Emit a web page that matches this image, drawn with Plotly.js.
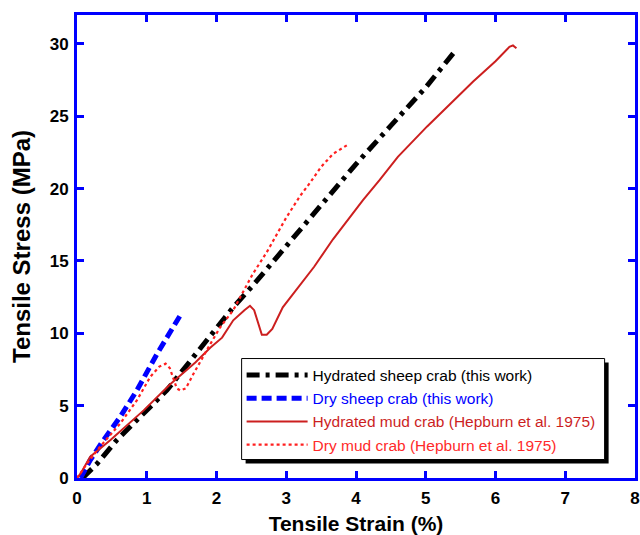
<!DOCTYPE html>
<html>
<head>
<meta charset="utf-8">
<script src="https://cdn.plot.ly/plotly-3.0.1.min.js"></script>
<style>html,body{margin:0;padding:0;background:#fff;}#chart{width:640px;height:535px;}</style>
</head>
<body>
<div id="chart"></div>
<script>
// Hydrated sheep crab (this work)
const hydSheepStrain = [0.08, 0.29, 0.57, 0.96, 1.29, 1.67, 1.94, 2.24, 2.52, 3.34, 4.0, 4.49, 5.0, 5.42];
const hydSheepStress = [0.0, 1.0, 2.62, 4.46, 6.07, 8.37, 10.0, 11.8, 13.3, 18.0, 21.7, 24.3, 27.0, 29.5];
// Dry sheep crab (this work)
const drySheepStrain = [0.05, 0.19, 0.38, 0.62, 0.86, 1.15, 1.48];
const drySheepStress = [0.0, 1.24, 2.62, 4.23, 6.07, 8.6, 11.24];
// Hydrated mud crab (Hepburn et al. 1975)
const hydMudStrain = [0, 0.05, 0.19, 0.48, 0.96, 1.34, 1.7, 1.91, 2.08, 2.24, 2.4, 2.48, 2.54, 2.6, 2.65, 2.72, 2.8, 2.95, 3.2, 3.4, 3.67, 4.1, 4.34, 4.6, 5.02, 5.3, 5.68, 6.0, 6.2, 6.25, 6.3];
const hydMudStress = [0, 0.3, 1.47, 2.62, 4.69, 6.5, 8.0, 9.0, 9.7, 10.9, 11.6, 11.9, 11.6, 10.6, 9.9, 9.9, 10.3, 11.8, 13.4, 14.6, 16.5, 19.2, 20.6, 22.2, 24.3, 25.6, 27.4, 28.8, 29.8, 29.9, 29.7];
// Dry mud crab (Hepburn et al. 1975)
const dryMudStrain = [0, 0.16, 0.33, 0.62, 0.86, 1.05, 1.18, 1.27, 1.33, 1.38, 1.43, 1.48, 1.56, 1.67, 1.76, 1.88, 2.05, 2.24, 2.52, 2.72, 3.0, 3.2, 3.34, 3.5, 3.67, 3.87];
const dryMudStress = [0, 1.1, 2.16, 3.77, 5.38, 6.99, 7.7, 7.9, 7.6, 6.9, 6.2, 6.05, 6.2, 7.2, 8.0, 9.0, 10.4, 11.6, 14.1, 15.6, 18.0, 19.5, 20.4, 21.5, 22.4, 23.0];

const seriesNames = [
  '<span style="color:#000000">Hydrated sheep crab (this work)</span>',
  '<span style="color:#0000ff">Dry sheep crab (this work)</span>',
  '<span style="color:#cc1f1f">Hydrated mud crab (Hepburn et al. 1975)</span>',
  '<span style="color:#ff2a2a">Dry mud crab (Hepburn et al. 1975)</span>'
];

const traces = [
  {x: hydSheepStrain, y: hydSheepStress, name: seriesNames[0], legendgroup: 'a', mode: 'lines',
   line: {color: '#000000', width: 5, dash: '13px,6px,4px,6px'}},
  {x: drySheepStrain, y: drySheepStress, name: seriesNames[1], legendgroup: 'b', mode: 'lines',
   line: {color: '#0000ff', width: 5, dash: '10px,5px'}},
  {x: hydMudStrain, y: hydMudStress, name: seriesNames[2], legendgroup: 'c', mode: 'lines',
   line: {color: '#cc1f1f', width: 2}},
  {x: dryMudStrain, y: dryMudStress, name: seriesNames[3], legendgroup: 'd', mode: 'lines',
   line: {color: '#ff2020', width: 2.2, dash: 'dot'}}
];

const fam = 'Liberation Sans, Arial, sans-serif';
const axisCommon = {
  showline: true, linecolor: '#0000ff', linewidth: 3, mirror: 'ticks',
  ticks: 'inside', ticklen: 7, tickwidth: 3, tickcolor: '#0000ff',
  showgrid: false, zeroline: false,
  tickfont: {family: fam, size: 17, color: '#000', weight: 'bold'}
};

const layout = {
  width: 640, height: 535,
  margin: {l: 77, r: 5, t: 15, b: 57},
  paper_bgcolor: '#fff', plot_bgcolor: '#fff',
  showlegend: true,
  xaxis: Object.assign({}, axisCommon, {
    range: [0, 8], dtick: 1, tick0: 0, ticklabelstandoff: 3,
    title: {text: 'Tensile Strain (%)', standoff: 9,
            font: {family: fam, size: 21, color: '#000', weight: 'bold'}}
  }),
  yaxis: Object.assign({}, axisCommon, {
    range: [0, 32], dtick: 5, tick0: 0, ticklabelstandoff: 2,
    title: {text: 'Tensile Stress (MPa)', standoff: 13,
            font: {family: fam, size: 24, color: '#000', weight: 'bold'}}
  }),
  legend: {
    x: 0.295, y: 0.258, xanchor: 'left', yanchor: 'top',
    bgcolor: 'rgba(0,0,0,0)', borderwidth: 0,
    font: {family: fam, size: 15.5, color: '#000'},
    itemwidth: 61, tracegroupgap: 4, traceorder: 'normal'
  }
};

const gd = document.getElementById('chart');
Plotly.newPlot(gd, traces, layout, {displayModeBar: false, staticPlot: true}).then(function () {
  const bg = gd.querySelector('.legend .bg');
  if (!bg) return;
  const r = bg.getBoundingClientRect();
  const c = gd.getBoundingClientRect();
  const fl = gd._fullLayout;
  const L = fl.margin.l, T = fl.margin.t, W = fl._size.w, H = fl._size.h;
  const px = v => (v - c.left - L) / W;
  const py = v => 1 - (v - c.top - T) / H;
  const left = r.left, right = r.right + 4, top = r.top, bottom = r.bottom - 2;
  return Plotly.relayout(gd, {shapes: [
    {type: 'rect', xref: 'paper', yref: 'paper', layer: 'above',
     x0: px(left + 4), x1: px(right + 4), y0: py(bottom + 4), y1: py(top + 4),
     fillcolor: '#000', line: {width: 0}},
    {type: 'rect', xref: 'paper', yref: 'paper', layer: 'above',
     x0: px(left), x1: px(right), y0: py(bottom), y1: py(top),
     fillcolor: '#fff', line: {width: 1, color: '#000'}}
  ]});
});
</script>
</body>
</html>
